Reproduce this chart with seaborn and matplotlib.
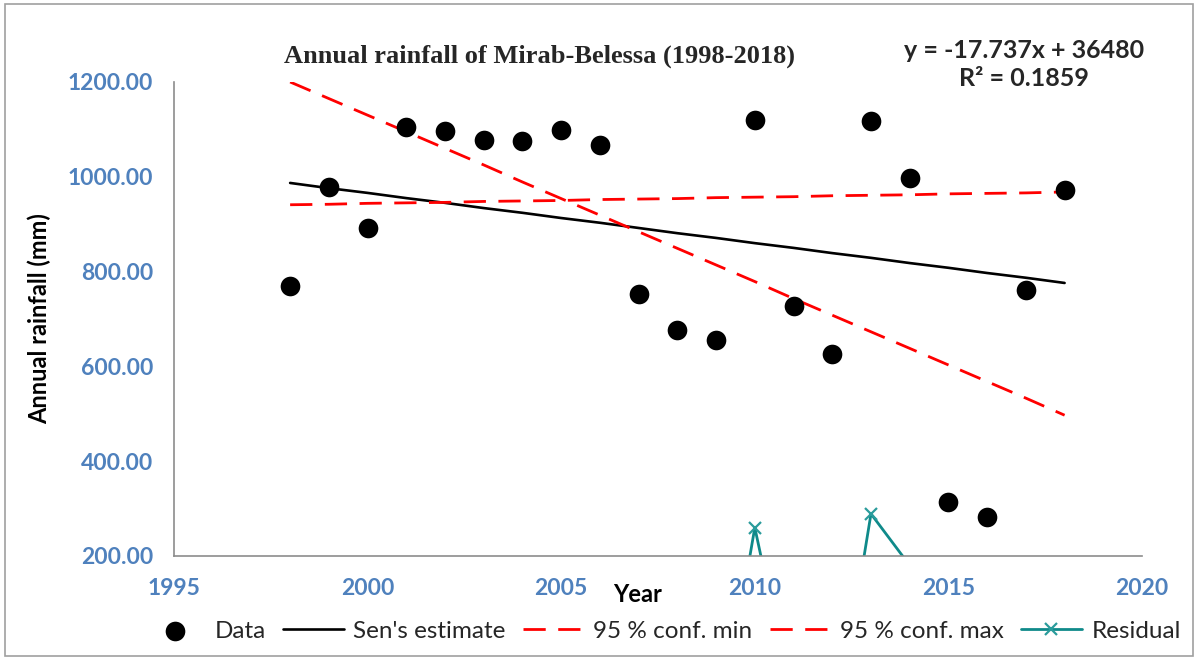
import matplotlib
matplotlib.use("Agg")
import matplotlib.pyplot as plt
import seaborn as sns
import pandas as pd
from matplotlib.patches import Rectangle

years = list(range(1998, 2019))
rainfall = [770, 979, 892, 1105, 1097, 1078, 1076, 1099, 1067, 753, 677,
            656, 1120, 728, 627, 1118, 998, 314, 283, 761, 972]
sens_estimate = [987, 976, 966, 955, 945, 934, 924, 913, 903, 892, 881,
                 871, 860, 850, 839, 829, 818, 808, 797, 787, 776]
conf_min = [1200, 1165, 1130, 1095, 1060, 1025, 989, 954, 919, 884, 849,
            814, 779, 743, 708, 673, 638, 603, 568, 533, 497]
conf_max = [941, 942, 944, 945, 946, 948, 949, 950, 952, 953, 954,
            956, 957, 958, 960, 961, 962, 964, 965, 966, 968]
residual = [-217, 3, -74, 150, 152, 144, 152, 180, 164, -139, -204,
            -215, 260, -122, -212, 289, 180, -494, -514, -26, 182]

xticks = [1995, 2000, 2005, 2010, 2015, 2020]
yticks = [200, 400, 600, 800, 1000, 1200]

df = pd.DataFrame({"Year": years, "Data": rainfall, "Sen": sens_estimate,
                   "Min": conf_min, "Max": conf_max, "Residual": residual})

sns.set_style("white")
plt.rcParams["font.family"] = ["Lato", "DejaVu Sans"]

fig = plt.figure(figsize=(11.98, 6.59), dpi=100)
ax = fig.add_axes([0.1452, 0.1563, 0.8081, 0.7193])

sns.scatterplot(data=df, x="Year", y="Data", ax=ax, color="black", s=200,
                edgecolor="black", linewidth=0, label="Data", zorder=5)
sns.lineplot(data=df, x="Year", y="Sen", ax=ax, color="black", lw=1.9,
             label="Sen's estimate")
sns.lineplot(data=df, x="Year", y="Min", ax=ax, color="#FF0000", lw=2.0,
             label="95 % conf. min")
ax.lines[-1].set_dashes((8, 4.5))
sns.lineplot(data=df, x="Year", y="Max", ax=ax, color="#FF0000", lw=2.0,
             label="95 % conf. max")
ax.lines[-1].set_dashes((8, 4.5))
sns.lineplot(data=df, x="Year", y="Residual", ax=ax, color="#0F8A8A", lw=2.0,
             marker="x", markersize=9, markeredgewidth=1.6,
             markeredgecolor="#2A9C9C", label="Residual")

ax.set_xlim(1995, 2020)
ax.set_ylim(200, 1200)
ax.set_xticks(xticks)
ax.set_yticks(yticks)
ax.set_yticklabels([f"{v:.2f}" for v in yticks])
ax.tick_params(axis="both", direction="out", length=6, width=1, color="#8C8C8C",
               labelcolor="#4F81BD", labelsize=16.5)
for lbl in ax.get_xticklabels() + ax.get_yticklabels():
    lbl.set_fontweight("bold")
ax.tick_params(axis="x", pad=10)
ax.tick_params(axis="y", pad=9)

for side in ["top", "right"]:
    ax.spines[side].set_visible(False)
for side in ["left", "bottom"]:
    ax.spines[side].set_color("#8C8C8C")
    ax.spines[side].set_linewidth(1.2)

ax.set_xlabel("Year", fontsize=17, fontweight="bold", color="black")
ax.xaxis.set_label_coords(0.479, -0.057)
ax.set_ylabel("Annual rainfall (mm)", fontsize=17, fontweight="bold", color="black")
ax.yaxis.set_label_coords(-0.127, 0.5)

fig.text(539 / 1198, 1 - 56 / 659, "Annual rainfall of Mirab-Belessa (1998-2018)",
         ha="center", va="center", fontsize=19, fontweight="bold",
         family=["Liberation Serif", "DejaVu Serif"])
fig.text(1024 / 1198, 1 - 50 / 659, "y = -17.737x + 36480", ha="center", va="center",
         fontsize=18, fontweight="bold")
fig.text(1024 / 1198, 1 - 79 / 659, "R² = 0.1859", ha="center", va="center",
         fontsize=18, fontweight="bold")

handles, labels = ax.get_legend_handles_labels()
ax.legend_.remove()
fig.legend(handles, labels, loc="center", bbox_to_anchor=(0.553, 1 - 631 / 659),
           ncol=5, frameon=False, fontsize=17.5, handlelength=2.5,
           columnspacing=0.7, handletextpad=0.4)

fig.patches.append(Rectangle((0.004, 0.004), 0.992, 0.99, transform=fig.transFigure,
                             fill=False, edgecolor="#A0A0A0", lw=1.2))

fig.savefig("out.png", dpi=100)
